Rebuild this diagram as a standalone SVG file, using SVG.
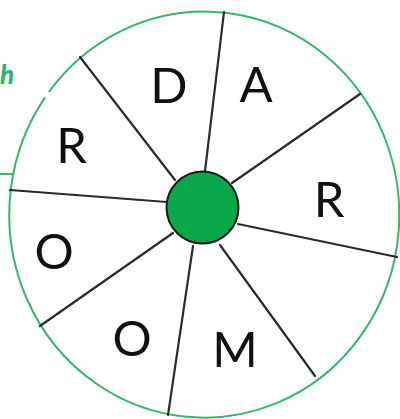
<svg xmlns="http://www.w3.org/2000/svg" width="400" height="419" viewBox="0 0 400 419">
<style>
.rim{fill:none;stroke:#33b86a;stroke-width:2}
.spoke{stroke:#2b2b2b;stroke-width:2.2;stroke-linecap:round}
.lbl{font-family:Lato,"Open Sans",sans-serif;font-size:49px;fill:#111;text-anchor:middle}
</style>
<rect width="400" height="419" fill="#fff"/>
<g id="wheel">
<path class="rim" d="M 48.9 92 A 195 203 0 1 1 45.1 97.4"/>
<line class="rim" x1="0" y1="174" x2="14" y2="174"/>
<text x="0" y="84" font-family="Lato,sans-serif" font-size="26" font-weight="900" font-style="italic" fill="#2fb36f">h</text>
</g>
<g id="connectors">
<line class="spoke" x1="80" y1="57" x2="175" y2="180"/>
<line class="spoke" x1="224" y1="12" x2="205" y2="171"/>
<line class="spoke" x1="360" y1="94" x2="232" y2="183"/>
<line class="spoke" x1="238" y1="224" x2="397" y2="257"/>
<line class="spoke" x1="220" y1="245" x2="315" y2="376"/>
<line class="spoke" x1="193" y1="246" x2="168" y2="415"/>
<line class="spoke" x1="173" y1="233" x2="40" y2="326"/>
<line class="spoke" x1="10" y1="190" x2="167" y2="202"/>
</g>
<g id="hub">
<circle cx="202.5" cy="207.5" r="36" fill="#08a84b" stroke="#1a1a1a" stroke-width="2"/>
</g>
<g id="labels">
<text class="lbl" x="169" y="103">D</text>
<text class="lbl" x="256" y="102">A</text>
<text class="lbl" x="71.5" y="163">R</text>
<text class="lbl" x="329" y="217">R</text>
<text class="lbl" x="54" y="269">O</text>
<text class="lbl" x="132" y="356">O</text>
<text class="lbl" x="235" y="367">M</text>
</g>
</svg>
